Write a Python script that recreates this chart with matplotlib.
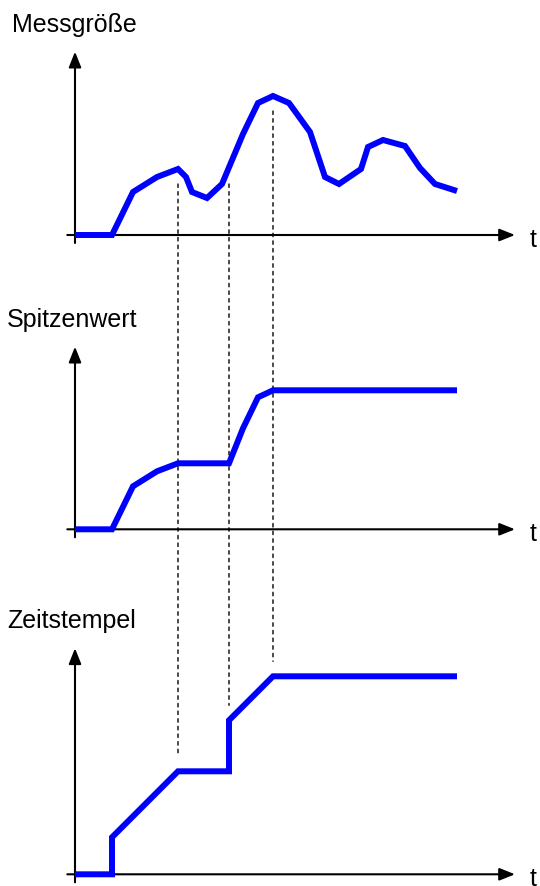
import numpy as np
import matplotlib.pyplot as plt
from matplotlib.patches import ConnectionPatch

plt.rcParams['font.family'] = ['Liberation Sans', 'DejaVu Sans']
plt.rcParams['lines.scale_dashes'] = False

# measured signal over time
t_mess = [0, 37, 58, 82, 103, 111, 117, 132, 147, 168, 183, 198, 214, 235,
          250, 264, 286, 293, 308, 330, 345, 360, 382]
y_mess = [0, 0, 43, 58, 66, 58, 43, 37, 51, 101, 132, 139, 132, 103,
          58, 51, 66, 88, 95, 89, 67, 51, 44]

# peak value (running maximum of the signal)
t_peak = [0, 37, 58, 82, 103, 154, 168, 183, 198, 382]
y_peak = [0, 0, 43, 58, 66, 66, 101, 132, 139, 139]

# time stamp of the last peak
t_stamp = [0, 37, 37, 103, 154, 154, 198, 382]
y_stamp = [0, 0, 37, 103, 103, 154, 198, 198]

# moments at which a new peak is taken over
peak_times = [103, 154, 198]
peak_vals = [66, 66, 139]
stamp_vals = [103, 154, 198]

titles = ['Messgröße', 'Spitzenwert', 'Zeitstempel']

W, H = 540, 886
BLUE = '#0000ff'

fig = plt.figure(figsize=(W / 100, H / 100), dpi=100)


def make_axes(axis_px, top_px, bot_px):
    # one panel; 1 data unit = 1 pixel, origin at the axis cross
    ax = fig.add_axes([0, 1 - bot_px / H, 1, (bot_px - top_px) / H])
    ax.set_xlim(-75, W - 75)
    ax.set_ylim(axis_px - bot_px, axis_px - top_px)
    ax.axis('off')
    ax.patch.set_visible(False)
    return ax


def draw_frame(ax, y_top, title, title_x):
    arrow = dict(arrowstyle='-|>,head_length=0.55,head_width=0.22',
                 mutation_scale=17, lw=1.5, color='black',
                 shrinkA=0, shrinkB=0)
    ax.annotate('', xy=(440, 0), xytext=(-7.7, 0), arrowprops=arrow)
    ax.annotate('', xy=(0, y_top), xytext=(0, -8), arrowprops=arrow)
    ax.text(455, -11.7, 't', fontsize=18, ha='left', va='baseline')
    ax.text(title_x, y_top + 20, title, fontsize=18, ha='left', va='baseline')


ax1 = make_axes(235, 40, 255)
ax2 = make_axes(529.3, 335, 545)
ax3 = make_axes(874.3, 630, 886)

draw_frame(ax1, 183.3, titles[0], -63.3)
draw_frame(ax2, 182.6, titles[1], -67.7)
draw_frame(ax3, 226, titles[2], -67.7)

line_kw = dict(color=BLUE, lw=4.3, solid_joinstyle='miter',
               solid_capstyle='butt', zorder=3)
ax1.plot(t_mess, y_mess, **line_kw)
ax2.plot(t_peak, y_peak, **line_kw)
ax3.plot(t_stamp, y_stamp, **line_kw)

# dashed guides from the signal down to the time stamp
gap = 15
for pt, pv, sv in zip(peak_times, peak_vals, stamp_vals):
    con = ConnectionPatch(xyA=(pt, pv - gap), coordsA=ax1.transData,
                          xyB=(pt, sv + gap), coordsB=ax3.transData,
                          linestyle=(0, (2.5, 3.0)), lw=1.0, color='black',
                          zorder=-1)
    fig.add_artist(con)

fig.savefig('out.png', dpi=100)
